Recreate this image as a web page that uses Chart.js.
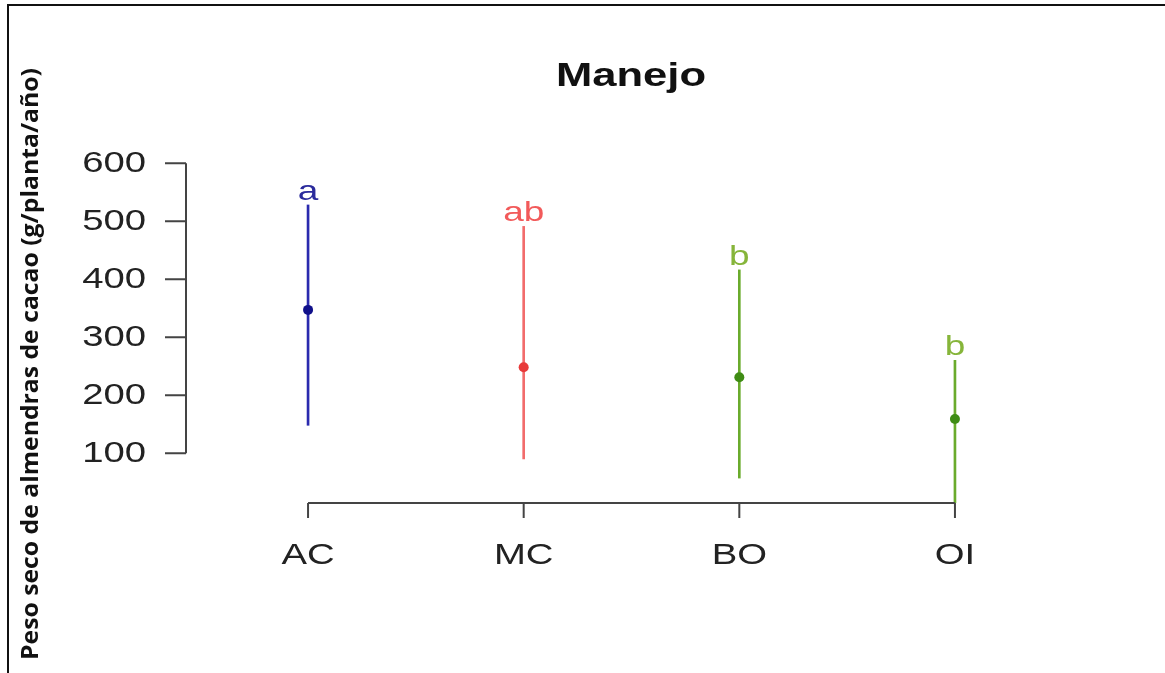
<!DOCTYPE html>
<html>
<head>
<meta charset="utf-8">
<title>Manejo</title>
<script src="https://cdn.jsdelivr.net/npm/chart.js@4/dist/chart.umd.min.js"></script>
<style>
  html, body { margin: 0; padding: 0; background: #fff; }
  #wrap { width: 1165px; height: 673px; position: relative; }
</style>
</head>
<body>
<div id="wrap"><canvas id="chart" width="1165" height="673"></canvas></div>
<script>
// Peso seco por tipo de manejo: media e intervalo
const categories = ["AC", "MC", "BO", "OI"];
const means = [347, 248, 231, 159];
const lower = [148, 90, 57, 14];
const upper = [528, 491, 416, 260];
const groupLetters = ["a", "ab", "b", "b"];
const yTicks = [100, 200, 300, 400, 500, 600];

const lineColors = ["#2a2aae", "#f26c6c", "#6aab2c", "#6aab2c"];
const pointColors = ["#10108a", "#e83a3a", "#3f8c14", "#3f8c14"];
const letterColors = ["#2b2b9c", "#f25a5a", "#86b53a", "#86b53a"];

const yTitle = "Peso seco de almendras de cacao (g/planta/año)";
const mainTitle = "Manejo";

// R-style text is a bit wider than normal, so stretch it horizontally
const STRETCH = 1.32;
function wideText(ctx, text, x, y, align) {
    ctx.save();
    ctx.translate(x, y);
    ctx.scale(STRETCH, 1);
    ctx.textAlign = align;
    ctx.fillText(text, 0, 0);
    ctx.restore();
}

// axes, labels, titles and frame drawn around the plot region
const rAxes = {
    id: "rAxes",
    beforeDraw(chart) {
        const ctx = chart.ctx;
        ctx.save();
        ctx.fillStyle = "#fff";
        ctx.fillRect(0, 0, chart.width, chart.height);
        ctx.restore();
    },
    afterDraw(chart) {
        const ctx = chart.ctx;
        const xs = chart.scales.x;
        const ys = chart.scales.y;
        const area = chart.chartArea;

        ctx.save();
        ctx.strokeStyle = "#444";
        ctx.lineWidth = 2;
        ctx.fillStyle = "#222";
        ctx.font = "29px 'Liberation Sans', Arial, sans-serif";
        ctx.textBaseline = "middle";

        // y axis
        const yTop = ys.getPixelForValue(yTicks[yTicks.length - 1]);
        const yBot = ys.getPixelForValue(yTicks[0]);
        ctx.beginPath();
        ctx.moveTo(area.left, yTop);
        ctx.lineTo(area.left, yBot);
        yTicks.forEach(v => {
            const py = ys.getPixelForValue(v);
            ctx.moveTo(area.left - 21, py);
            ctx.lineTo(area.left, py);
        });
        ctx.stroke();
        yTicks.forEach(v => {
            wideText(ctx, String(v), area.left - 40, ys.getPixelForValue(v) + 1, "right");
        });

        // x axis
        const xFirst = xs.getPixelForValue(1);
        const xLast = xs.getPixelForValue(categories.length);
        ctx.beginPath();
        ctx.moveTo(xFirst, area.bottom);
        ctx.lineTo(xLast, area.bottom);
        categories.forEach((c, i) => {
            const px = xs.getPixelForValue(i + 1);
            ctx.moveTo(px, area.bottom);
            ctx.lineTo(px, area.bottom + 15);
        });
        ctx.stroke();
        categories.forEach((c, i) => {
            wideText(ctx, c, xs.getPixelForValue(i + 1), area.bottom + 53, "center");
        });

        // significance letters above each interval
        ctx.font = "28px 'Liberation Sans', Arial, sans-serif";
        ctx.textBaseline = "alphabetic";
        groupLetters.forEach((t, i) => {
            ctx.fillStyle = letterColors[i];
            wideText(ctx, t, xs.getPixelForValue(i + 1), ys.getPixelForValue(upper[i]) - 5, "center");
        });

        // main title
        ctx.fillStyle = "#111";
        ctx.font = "bold 33px 'Liberation Sans', Arial, sans-serif";
        ctx.textBaseline = "middle";
        wideText(ctx, mainTitle, 631, 77, "center");

        // y title, rotated
        ctx.font = "bold 23px 'Open Sans', 'Noto Sans', sans-serif";
        const w = ctx.measureText(yTitle).width;
        ctx.translate(31, 364);
        ctx.rotate(-Math.PI / 2);
        ctx.scale(592 / w, 1);
        ctx.textAlign = "center";
        ctx.fillText(yTitle, 0, 0);
        ctx.restore();

        // frame
        ctx.save();
        ctx.strokeStyle = "#111";
        ctx.lineWidth = 2;
        ctx.beginPath();
        ctx.moveTo(8, chart.height);
        ctx.lineTo(8, 5);
        ctx.lineTo(chart.width, 5);
        ctx.stroke();
        ctx.restore();
    }
};

new Chart(document.getElementById("chart"), {
    type: "bar",
    data: {
        datasets: [
            {
                type: "bar",
                label: "intervalo",
                data: categories.map((c, i) => ({ x: i + 1, y: [lower[i], upper[i]] })),
                backgroundColor: lineColors,
                borderWidth: 0,
                barThickness: 2,
                order: 2
            },
            {
                type: "scatter",
                label: "media",
                data: categories.map((c, i) => ({ x: i + 1, y: means[i] })),
                backgroundColor: pointColors,
                borderColor: pointColors,
                pointRadius: 5,
                pointBorderWidth: 0,
                order: 1
            }
        ]
    },
    options: {
        responsive: false,
        animation: false,
        layout: { padding: { left: 186, right: 88, top: 140, bottom: 170 } },
        plugins: {
            legend: { display: false },
            tooltip: { enabled: false },
            title: { display: false }
        },
        scales: {
            x: { type: "linear", min: 0.434, max: 4.566, display: false, offset: false },
            y: { type: "linear", min: 14, max: 640, display: false }
        }
    },
    plugins: [rAxes]
});
</script>
</body>
</html>
